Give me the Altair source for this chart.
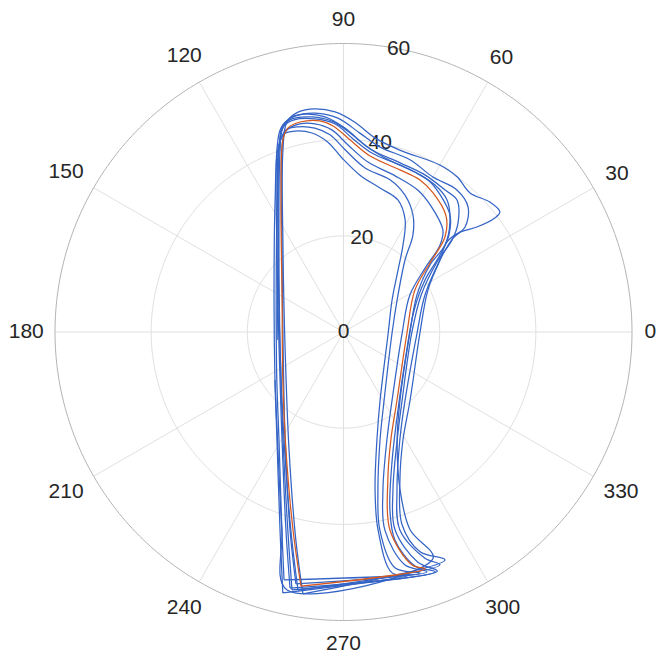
import math
import numpy as np
import pandas as pd
import altair as alt

# ---- data: angle (deg) and radius for each trace ----
ref_theta = [260.5,255.7,244.0,218.4,152.5,115.3,107.5,105.2,101.7,96.4,92.9,88.1,81.4,70.8,63.3,57.2,48.5,43.1,38.6,30.4,359.1,308.2,293.7,286.7,283.2,286.4,289.0,260.5]
ref_r = [53.6,42.5,27.3,16.1,14.4,30.4,41.9,44.0,44.6,44.2,42.9,40.0,37.0,35.7,35.4,34.4,32.2,28.9,23.0,17.2,13.2,18.0,24.5,32.1,42.3,50.5,52.1,53.6]

t1_theta = [261.2,257.1,245.2,197.1,126.4,108.4,105.1,101.7,97.3,92.2,86.9,80.8,72.8,60.0,53.8,47.7,41.6,37.5,37.0,38.2,40.6,41.0,36.7,26.4,359.3,314.4,298.9,290.9,286.9,289.2,294.0,261.2]
t1_r = [55.1,44.4,27.0,12.7,21.2,39.9,45.2,46.7,46.8,45.8,43.7,40.9,39.6,40.1,40.0,39.1,40.7,41.0,39.4,35.3,31.9,28.5,25.0,19.6,15.9,19.8,25.6,32.9,41.9,48.4,51.9,55.1]

t2_theta = [260.0,255.1,241.1,195.8,128.6,109.5,106.3,102.7,97.4,91.5,85.3,78.8,68.9,60.0,51.4,45.1,40.8,40.6,36.7,24.4,359.2,312.1,297.6,288.7,285.9,289.8,292.5,260.0]
t2_r = [54.5,42.6,25.6,13.7,21.8,40.2,44.9,46.0,45.9,44.5,41.5,39.2,38.4,37.2,37.8,36.7,33.4,30.0,25.0,18.6,15.3,19.1,25.3,34.7,42.8,50.0,52.4,54.5]

t3_theta = [258.2,253.8,240.3,195.6,129.0,110.1,107.0,103.6,98.3,93.1,88.1,81.1,71.5,62.6,54.4,49.3,43.6,40.3,36.8,25.5,359.2,310.7,296.4,287.4,284.6,287.9,291.4,258.2]
t3_r = [54.4,42.9,25.8,13.9,22.0,40.3,44.4,45.6,45.2,43.9,41.4,38.3,37.1,36.8,36.3,36.2,32.9,29.6,24.3,17.9,14.2,18.7,25.1,34.4,42.5,50.3,53.4,54.4]

t4_theta = [259.3,254.9,241.6,196.6,126.9,108.7,106.3,102.9,97.8,93.3,88.6,81.8,71.7,62.3,55.7,45.7,42.0,38.1,29.1,359.0,305.5,291.9,284.0,281.8,284.8,289.2,259.3]
t4_r = [53.3,42.7,25.5,13.1,21.3,40.0,43.3,44.2,43.7,42.1,38.9,35.7,34.2,33.3,32.0,29.6,27.0,21.6,15.8,12.2,17.4,24.2,33.9,42.1,50.1,52.8,53.3]

t5_theta = [256.5,252.7,239.2,215.8,154.6,116.7,109.0,105.9,102.5,98.0,93.9,89.5,82.5,73.0,65.8,59.3,54.4,49.5,30.9,358.8,300.8,288.7,282.3,280.4,282.3,287.6,256.5]
t5_r = [53.0,43.1,26.2,17.1,15.5,30.7,41.1,43.7,43.7,42.8,41.1,37.9,34.4,33.1,31.2,28.3,24.8,19.7,13.0,10.1,16.5,23.7,33.6,41.9,50.2,52.6,53.0]

t6_theta = [256.9,252.2,238.4,215.0,155.3,117.4,109.6,106.7,103.6,99.0,94.7,90.5,84.0,75.8,67.6,61.2,55.6,48.7,33.4,358.7,298.2,287.2,281.3,279.9,281.4,285.3,256.9]
t6_r = [55.7,43.2,26.4,17.4,15.9,30.9,40.6,43.0,43.0,41.9,39.6,36.2,32.8,30.9,29.7,26.6,21.9,17.2,12.1,9.3,16.1,23.5,33.5,41.8,51.1,52.4,55.7]

t7_theta = [215.0,241.0,252.7,257.6,291.6,288.6,289.7,296.4,309.7,359.1,26.7,37.8,40.6,45.9,51.9,58.1,65.9,76.6,83.4,89.6,94.9,100.0,104.0,106.9,109.5,128.6,186.9]
t7_r = [17.4,28.1,43.1,54.9,50.6,43.4,34.9,25.1,18.4,13.8,17.1,22.8,27.8,31.8,34.9,36.0,36.4,37.2,39.1,42.4,44.9,46.0,45.9,43.9,40.2,21.8,13.9]

t8_theta = [258.7,254.3,240.7,195.8,128.2,109.2,106.4,103.1,97.6,92.3,87.5,81.0,70.6,60.9,54.8,47.7,42.6,38.6,32.5,17.3,335.5,304.9,290.8,284.6,283.9,287.0,290.9,258.7]
t8_r = [54.7,42.8,25.7,13.7,21.7,40.1,44.5,45.3,44.7,43.3,40.4,37.7,36.6,36.2,34.9,32.9,29.8,25.7,20.1,15.4,14.1,19.8,28.5,38.3,44.6,50.9,53.4,54.7]

trials = {"t1": (t1_theta, t1_r), "t2": (t2_theta, t2_r), "t3": (t3_theta, t3_r), "t4": (t4_theta, t4_r),
          "t5": (t5_theta, t5_r), "t6": (t6_theta, t6_r), "t7": (t7_theta, t7_r), "t8": (t8_theta, t8_r)}

R_MAX = 60
r_ticks = [0, 20, 40, 60]
theta_ticks = [0, 30, 60, 90, 120, 150, 180, 210, 240, 270, 300, 330]
r_label_angle = 79

# ---- styling ----
FS = 21
FONT = "Liberation Sans"
TXT = "#262626"
W = 648
PXU = 288.5 / R_MAX          # pixels per radial unit
CX, CY = 335.5, 324.0        # pole position inside the plot area (px)


def polar_rows(name, th, rr):
    out = []
    for i, (t, r) in enumerate(zip(th, rr)):
        a = math.radians(t)
        out.append(dict(curve=name, i=i, x=r * math.cos(a), y=r * math.sin(a)))
    return out


rows = []
for k, (th, rr) in trials.items():
    rows += polar_rows(k, th, rr)
blue = pd.DataFrame(rows)
orange = pd.DataFrame(polar_rows("ref", ref_theta, ref_r))

circ = []
for rv in r_ticks[1:]:
    for k, a in enumerate(np.arange(0, 361, 1.0)):
        circ.append(dict(rv=rv, k=k, x=rv * math.cos(math.radians(a)), y=rv * math.sin(math.radians(a))))
circ = pd.DataFrame(circ)

spokes = pd.DataFrame([dict(x=0.0, y=0.0,
                            x2=R_MAX * math.cos(math.radians(t)),
                            y2=R_MAX * math.sin(math.radians(t))) for t in theta_ticks])

lab = []
for t in theta_ticks:
    a = math.radians(t)
    w = len(str(t)) * 0.5 * FS
    h = 1.0 * FS
    rp = R_MAX * PXU + 13 + abs(math.cos(a)) * w / 2 + abs(math.sin(a)) * h / 2
    lab.append(dict(x=rp / PXU * math.cos(a), y=rp / PXU * math.sin(a), text=str(t)))
lab = pd.DataFrame(lab)
rlab = pd.DataFrame([dict(x=v * math.cos(math.radians(r_label_angle)),
                          y=v * math.sin(math.radians(r_label_angle)), text=str(v)) for v in r_ticks])

xs = alt.Scale(domain=[-CX / PXU, (W - CX) / PXU], nice=False, zero=False)
ys = alt.Scale(domain=[-(W - CY) / PXU, CY / PXU], nice=False, zero=False)


def X(f):
    return alt.X(f, type="quantitative", scale=xs, axis=None)


def Y(f):
    return alt.Y(f, type="quantitative", scale=ys, axis=None)


grid = alt.Chart(circ[circ.rv < R_MAX]).mark_line(color="#e0e0e0", strokeWidth=1).encode(
    x=X("x"), y=Y("y"), detail="rv:N", order="k:Q")
outer = alt.Chart(circ[circ.rv == R_MAX]).mark_line(color="#b4b4b4", strokeWidth=1).encode(
    x=X("x"), y=Y("y"), order="k:Q")
sp = alt.Chart(spokes).mark_rule(color="#e0e0e0", strokeWidth=1).encode(
    x=X("x"), y=Y("y"), x2="x2:Q", y2="y2:Q")
bl = alt.Chart(blue).mark_line(color="#3464c6", strokeWidth=1.25, interpolate="catmull-rom").encode(
    x=X("x"), y=Y("y"), detail="curve:N", order="i:Q")
orl = alt.Chart(orange).mark_line(color="#d4581f", strokeWidth=1.25, interpolate="catmull-rom").encode(
    x=X("x"), y=Y("y"), order="i:Q")
tl = alt.Chart(lab).mark_text(fontSize=FS, font=FONT, color=TXT, align="center", baseline="middle").encode(
    x=X("x"), y=Y("y"), text="text:N")
rl = alt.Chart(rlab).mark_text(fontSize=FS, font=FONT, color=TXT, align="center", baseline="middle").encode(
    x=X("x"), y=Y("y"), text="text:N")

chart = alt.layer(sp, grid, outer, rl, bl, orl, tl).properties(
    width=W, height=W, autosize=alt.AutoSizeParams(type="none"), padding=0
).configure_view(stroke=None)
chart.save("out.html", embed_options={"renderer": "svg", "actions": False})
